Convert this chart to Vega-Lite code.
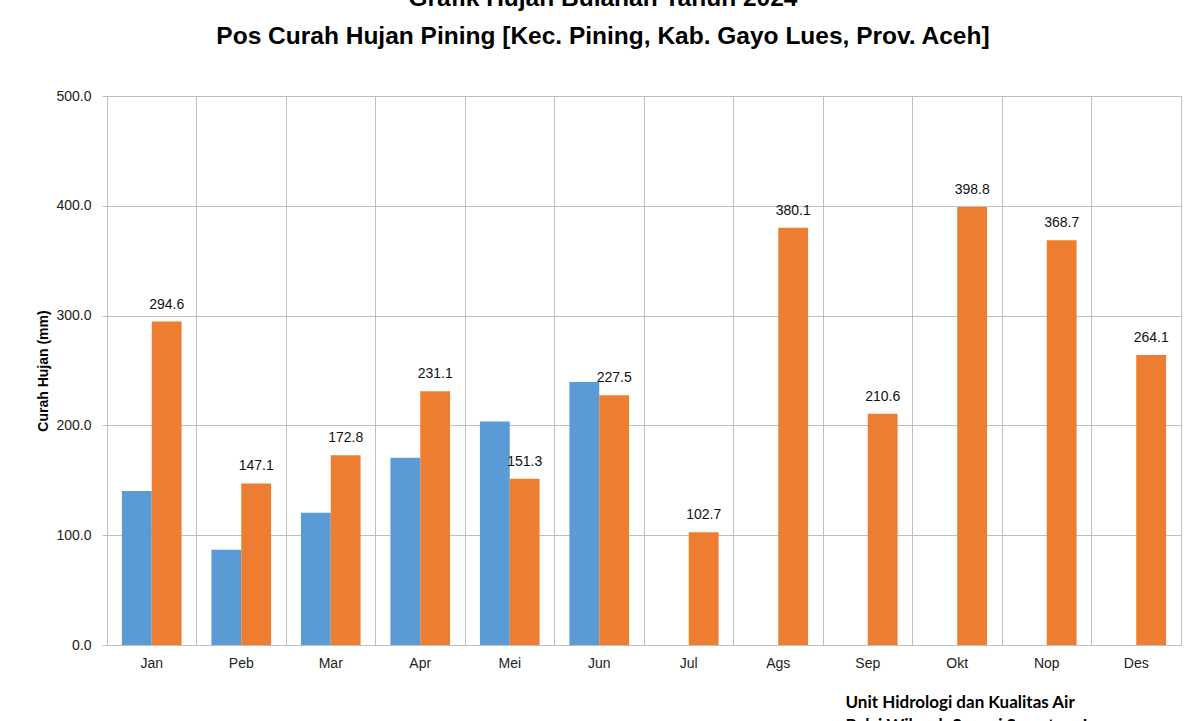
{
  "$schema": "https://vega.github.io/schema/vega-lite/v6.json",
  "autosize": "none",
  "width": 1074,
  "height": 549,
  "padding": {"left": 107, "top": 96, "right": 19, "bottom": 76},
  "background": "white",
  "title": {
    "text": ["Grafik Hujan Bulanan Tahun 2024", "Pos Curah Hujan Pining [Kec. Pining, Kab. Gayo Lues, Prov. Aceh]"],
    "anchor": "middle",
    "frame": "bounds",
    "font": "Liberation Sans",
    "fontSize": 24.5,
    "fontWeight": "bold",
    "lineHeight": 38,
    "color": "black",
    "offset": 40,
    "dx": -6
  },
  "data": {
    "values": [
      {"bulan": "Jan", "seri": "Seri 1", "ch": 140.3},
      {"bulan": "Peb", "seri": "Seri 1", "ch": 86.8},
      {"bulan": "Mar", "seri": "Seri 1", "ch": 120.5},
      {"bulan": "Apr", "seri": "Seri 1", "ch": 170.6},
      {"bulan": "Mei", "seri": "Seri 1", "ch": 203.6},
      {"bulan": "Jun", "seri": "Seri 1", "ch": 239.5},
      {"bulan": "Jan", "seri": "Seri 2", "ch": 294.6},
      {"bulan": "Peb", "seri": "Seri 2", "ch": 147.1},
      {"bulan": "Mar", "seri": "Seri 2", "ch": 172.8},
      {"bulan": "Apr", "seri": "Seri 2", "ch": 231.1},
      {"bulan": "Mei", "seri": "Seri 2", "ch": 151.3},
      {"bulan": "Jun", "seri": "Seri 2", "ch": 227.5},
      {"bulan": "Jul", "seri": "Seri 2", "ch": 102.7},
      {"bulan": "Ags", "seri": "Seri 2", "ch": 380.1},
      {"bulan": "Sep", "seri": "Seri 2", "ch": 210.6},
      {"bulan": "Okt", "seri": "Seri 2", "ch": 398.8},
      {"bulan": "Nop", "seri": "Seri 2", "ch": 368.7},
      {"bulan": "Des", "seri": "Seri 2", "ch": 264.1}
    ]
  },
  "encoding": {
    "x": {
      "field": "bulan",
      "type": "nominal",
      "sort": ["Jan", "Peb", "Mar", "Apr", "Mei", "Jun", "Jul", "Ags", "Sep", "Okt", "Nop", "Des"],
      "scale": {"paddingInner": 0, "paddingOuter": 0},
      "axis": {
        "title": ["Unit Hidrologi dan Kualitas Air", "Balai Wilayah Sungai Sumatera I"],
        "titleFont": "Lato",
        "titleFontSize": 17,
        "titleFontWeight": "bold",
        "titleColor": "black",
        "titleLineHeight": 23,
        "titleAnchor": "start",
        "titleAlign": "left",
        "titleBaseline": "alphabetic",
        "titleX": 738,
        "titleY": 62,
        "labelAngle": 0,
        "labelFont": "Liberation Sans",
        "labelFontSize": 14,
        "labelColor": "#222222",
        "labelPadding": 11,
        "ticks": false,
        "grid": true,
        "gridColor": "#BFBFBF",
        "bandPosition": 0,
        "domainColor": "#BFBFBF"
      }
    },
    "xOffset": {
      "field": "seri",
      "type": "nominal",
      "sort": ["Seri 1", "Seri 2"],
      "scale": {"domain": ["Seri 1", "Seri 2"], "paddingInner": 0, "paddingOuter": 0.5}
    },
    "y": {
      "field": "ch",
      "type": "quantitative",
      "scale": {"domain": [0, 500], "nice": false},
      "axis": {
        "title": "Curah Hujan (mm)",
        "titleFont": "Liberation Sans",
        "titleFontSize": 14,
        "titleFontWeight": "bold",
        "titleColor": "black",
        "titlePadding": 5,
        "values": [0, 100, 200, 300, 400, 500],
        "format": ".1f",
        "labelFont": "Liberation Sans",
        "labelFontSize": 14,
        "labelColor": "#222222",
        "labelPadding": 11,
        "tickSize": 5,
        "tickColor": "#BFBFBF",
        "gridColor": "#BFBFBF",
        "domainColor": "#BFBFBF"
      }
    }
  },
  "layer": [
    {
      "mark": {"type": "bar"},
      "encoding": {
        "color": {
          "field": "seri",
          "type": "nominal",
          "scale": {"domain": ["Seri 1", "Seri 2"], "range": ["#5B9BD5", "#ED7D31"]},
          "legend": null
        }
      }
    },
    {
      "transform": [{"filter": "datum.seri === 'Seri 2'"}],
      "mark": {"type": "text", "dy": -10, "baseline": "bottom", "font": "Liberation Sans", "fontSize": 14, "color": "#111111"},
      "encoding": {
        "text": {"field": "ch", "type": "quantitative", "format": ".1f"}
      }
    }
  ],
  "config": {
    "view": {"stroke": "#BFBFBF"}
  }
}
